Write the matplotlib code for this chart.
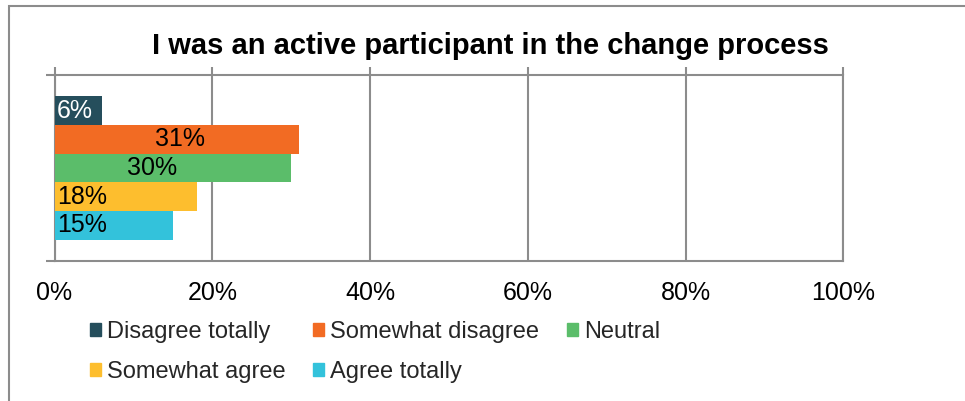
import numpy as np
import matplotlib
matplotlib.use("Agg")
import matplotlib.pyplot as plt
from matplotlib.patches import Rectangle, Patch

plt.rcParams['font.family'] = ['Liberation Sans', 'DejaVu Sans']

title = "I was an active participant in the change process"
answers = ["Disagree totally", "Somewhat disagree", "Neutral",
           "Somewhat agree", "Agree totally"]
shares = [6, 31, 30, 18, 15]
colors = ["#254e5c", "#f26b23", "#5bbd6a", "#fdbe2e", "#33c2db"]
label_colors = ["white", "black", "black", "black", "black"]
xticks = [0, 20, 40, 60, 80, 100]

grey = "#8c8c8c"

fig = plt.figure(figsize=(9.65, 4.01), dpi=100)
ax = fig.add_axes([54.5 / 965, 1 - 260.7 / 401, 789 / 965, 185.4 / 401])

# one category, five bars stacked top to bottom
h = 0.155
offsets = (np.arange(len(shares)) - 2) * h
bars = ax.barh(-offsets, shares, height=h, color=colors, zorder=3)

# label placement: (x, ha) per bar
label_pos = [(0.3, "left"), (15.9, "center"), (12.4, "center"),
             (0.3, "left"), (0.3, "left")]
for b, v, (lx, ha), c in zip(bars, shares, label_pos, label_colors):
    ax.text(lx, b.get_y() + b.get_height() / 2, f"{v}%", ha=ha, va="center",
            fontsize=18, color=c, zorder=4)

ax.set_xlim(0, 100)
ax.set_ylim(-0.5, 0.5)
ax.set_xticks(xticks)
ax.set_xticklabels([f"{t}%" for t in xticks])
ax.set_yticks([-0.5, 0.5])
ax.set_yticklabels([])
ax.grid(axis="x", color=grey, linewidth=1.5, zorder=0)

for s in ax.spines.values():
    s.set_color(grey)
    s.set_linewidth(1.5)

ax.tick_params(axis="x", top=True, bottom=False, labelbottom=True,
               labeltop=False, length=5.8, width=1.5, color=grey,
               labelsize=18, pad=9)
ax.tick_params(axis="y", left=True, length=6.2, width=1.5, color=grey)

fig.suptitle(title, x=490 / 965, y=1 - 46 / 401, va="center",
             fontsize=21, fontweight="bold")

# legend filled row by row: 3 on the first row, 2 on the second
handles = [Patch(color=c) for c in colors]
order = [0, 3, 1, 4, 2]
fig.legend([handles[i] for i in order], [answers[i] for i in order],
           ncol=3, loc="upper left", bbox_to_anchor=(90 / 965, 1 - 321 / 401),
           frameon=False, fontsize=17, handlelength=0.45, handleheight=0.45,
           handletextpad=0.25, columnspacing=1.2, labelspacing=0.75,
           borderpad=0, borderaxespad=0, labelcolor="#262626")

# outer chart frame (left and top edges)
fig.add_artist(Rectangle((8.5 / 965, -0.1), 1.2, 1.1 - 6.5 / 401,
                         transform=fig.transFigure, fill=False,
                         edgecolor=grey, linewidth=1.5))

fig.savefig("out.png", dpi=100)
